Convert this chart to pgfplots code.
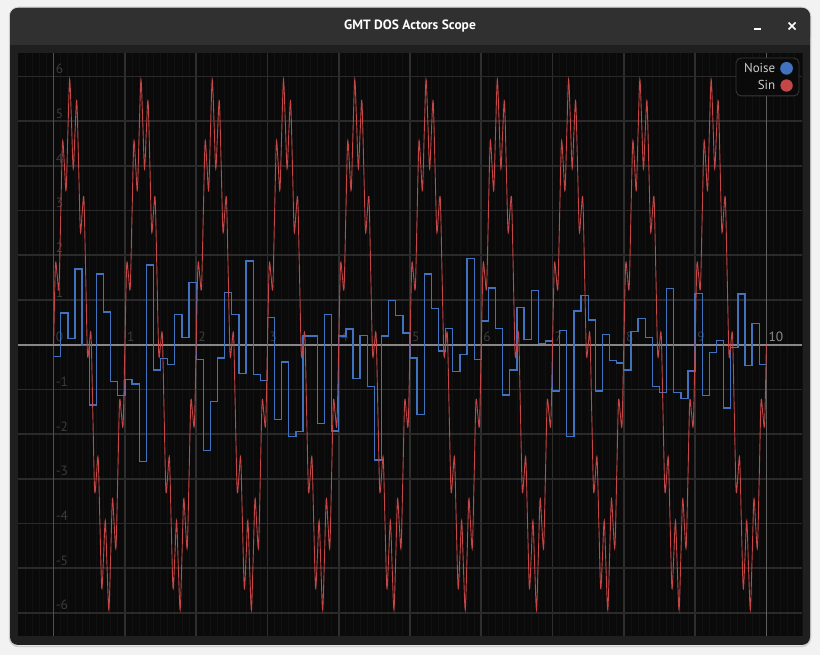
\documentclass[border=0pt]{standalone}
\usepackage{fontspec}
\setmainfont{PT Sans}
\usepackage{pgfplots}
\pgfplotsset{compat=1.18}

\definecolor{pagebg}{RGB}{242,242,242}
\definecolor{winshadow}{RGB}{205,205,205}
\definecolor{framebg}{RGB}{31,31,31}
\definecolor{titlebg}{RGB}{48,48,48}
\definecolor{plotbg}{RGB}{10,10,10}
\definecolor{minorgrid}{RGB}{17,17,17}
\definecolor{vgrid}{RGB}{46,46,46}
\definecolor{hgrid}{RGB}{42,42,42}
\definecolor{zeroh}{RGB}{135,135,135}
\definecolor{zerov}{RGB}{80,80,80}
\definecolor{tenline}{RGB}{95,95,95}
\definecolor{lblgray}{RGB}{60,60,60}
\definecolor{tenlbl}{RGB}{140,140,140}
\definecolor{legborder}{RGB}{58,58,58}
\definecolor{legtext}{RGB}{205,205,205}
\definecolor{sinred}{RGB}{196,70,70}
\definecolor{noiseblue}{RGB}{64,114,190}

\begin{document}
\begin{tikzpicture}[x=1bp,y=1bp,
  tl/.style={anchor=south west, inner sep=0pt, xshift=2bp, yshift=2.5bp,
    text=lblgray, font=\fontsize{13.5}{14}\selectfont}]
% window
\fill[pagebg] (0,0) rectangle (820,655);
\draw[winshadow, line width=1.5bp, rounded corners=9bp] (9.5,8.5) rectangle (810.5,647.5);
\fill[framebg, rounded corners=8bp] (10,10) rectangle (810,647);
\fill[titlebg, rounded corners=8bp] (10,610) rectangle (810,647);
\fill[titlebg] (10,610) rectangle (810,625);
\node[text=white, font=\fontsize{13.5}{16}\selectfont\bfseries] at (410,629) {GMT DOS Actors Scope};
\fill[white] (753.5,624.5) rectangle (760.5,626.5);
\draw[white, line width=1.6bp] (788.5,625.5) -- (795.5,632.5) (788.5,632.5) -- (795.5,625.5);

\begin{axis}[
  at={(18bp,19bp)}, anchor=south west,
  scale only axis, width=784bp, height=582.7bp,
  xmin=-0.5, xmax=10.5, ymin=-6.52, ymax=6.52,
  axis background/.style={fill=plotbg},
  axis line style={draw=none},
  tick style={draw=none}, major tick length=0pt, minor tick length=0pt,
  xtick={1,...,9}, ytick={-6,-5,-4,-3,-2,-1,1,2,3,4,5,6},
  minor xtick={-0.4,-0.3,...,10.45},
  xticklabels={}, yticklabels={},
  xmajorgrids=true, ymajorgrids=true, xminorgrids=true,
  major x grid style={vgrid, line width=1.6bp},
  major y grid style={hgrid, line width=1.6bp},
  minor x grid style={minorgrid, line width=0.8bp},
  legend style={
    at={(axis description cs:1,1)}, anchor=north east,
    xshift=-2.7bp, yshift=-4.3bp,
    fill=plotbg, draw=legborder, line width=0.8bp, rounded corners=5bp,
    text=legtext, font=\fontsize{13}{15}\selectfont,
    inner xsep=6bp, inner ysep=3bp, row sep=2.5bp, column sep=3bp,
  },
  legend plot pos=right, legend cell align=right,
]
% axis lines and tick labels
\draw[zerov, line width=1.6bp] (axis cs:0,-6.52) -- (axis cs:0,6.52);
\draw[tenline, line width=1.6bp] (axis cs:10,-6.52) -- (axis cs:10,6.52);
\draw[zeroh, line width=1.8bp] (axis cs:-0.5,0) -- (axis cs:10.5,0);
\node[tl] at (axis cs:0,0) {0};
\node[tl] at (axis cs:1,0) {1};
\node[tl] at (axis cs:2,0) {2};
\node[tl] at (axis cs:3,0) {3};
\node[tl] at (axis cs:4,0) {4};
\node[tl] at (axis cs:5,0) {5};
\node[tl] at (axis cs:6,0) {6};
\node[tl] at (axis cs:7,0) {7};
\node[tl] at (axis cs:8,0) {8};
\node[tl] at (axis cs:9,0) {9};
\node[tl, text=tenlbl] at (axis cs:10,0) {10};
\node[tl] at (axis cs:0,6) {6};
\node[tl] at (axis cs:0,5) {5};
\node[tl] at (axis cs:0,4) {4};
\node[tl] at (axis cs:0,3) {3};
\node[tl] at (axis cs:0,2) {2};
\node[tl] at (axis cs:0,1) {1};
\node[tl] at (axis cs:0,-1) {-1};
\node[tl] at (axis cs:0,-2) {-2};
\node[tl] at (axis cs:0,-3) {-3};
\node[tl] at (axis cs:0,-4) {-4};
\node[tl] at (axis cs:0,-5) {-5};
\node[tl] at (axis cs:0,-6) {-6};

% Noise: held samples every 0.1
\addplot[const plot, color=noiseblue, line width=1.3bp,
  legend image code/.code={\fill (0bp,0bp) circle (5.7bp);}] coordinates {
(0.0,-0.26) (0.1,0.71) (0.2,0.13) (0.3,1.69) (0.4,-0.02) (0.5,-1.35) (0.6,1.58) (0.7,0.73) (0.8,-0.83) (0.9,-1.14)
(1.0,-0.78) (1.1,-0.88) (1.2,-2.62) (1.3,1.78) (1.4,-0.57) (1.5,-0.31) (1.6,-0.45) (1.7,0.68) (1.8,0.16) (1.9,1.39)
(2.0,-0.34) (2.1,-2.37) (2.2,-1.27) (2.3,-0.30) (2.4,1.17) (2.5,0.68) (2.6,-0.65) (2.7,1.87) (2.8,-0.67) (2.9,-0.80)
(3.0,0.61) (3.1,-1.67) (3.2,-0.39) (3.3,-2.05) (3.4,-1.95) (3.5,0.19) (3.6,0.19) (3.7,-1.77) (3.8,0.68) (3.9,-1.93)
(4.0,0.19) (4.1,0.35) (4.2,-0.76) (4.3,0.21) (4.4,-0.93) (4.5,-2.58) (4.6,0.19) (4.7,0.98) (4.8,0.65) (4.9,0.26)
(5.0,-0.30) (5.1,-1.56) (5.2,1.58) (5.3,0.81) (5.4,-0.14) (5.5,0.36) (5.6,-0.60) (5.7,-0.22) (5.8,1.93) (5.9,-0.34)
(6.0,0.53) (6.1,1.27) (6.2,0.36) (6.3,-1.13) (6.4,-0.57) (6.5,0.83) (6.6,0.11) (6.7,1.21) (6.8,0.03) (6.9,0.08)
(7.0,-1.04) (7.1,0.32) (7.2,-2.05) (7.3,0.75) (7.4,1.10) (7.5,0.55) (7.6,-1.04) (7.7,0.23) (7.8,-0.36) (7.9,-0.41)
(8.0,-0.57) (8.1,0.30) (8.2,0.59) (8.3,0.16) (8.4,-0.94) (8.5,-1.07) (8.6,1.26) (8.7,-1.07) (8.8,-1.21) (8.9,-0.59)
(9.0,1.15) (9.1,-1.14) (9.2,-0.17) (9.3,0.10) (9.4,-1.42) (9.5,-0.07) (9.6,1.13) (9.7,-0.47) (9.8,0.47) (9.9,-0.45)
(10.0,-0.45)
};
\addlegendentry{Noise}

% Sin: read at 0.025 steps
\addplot[color=sinred, line width=0.9bp, smooth, tension=0.5,
  legend image code/.code={\fill (0bp,0bp) circle (5.7bp);}] coordinates {
(0.000,0) (0.025,1.782) (0.050,1.545) (0.075,1.270) (0.100,2.939) (0.125,4.536) (0.150,4.045) (0.175,3.455) (0.200,4.755) (0.225,5.938)
(0.250,5) (0.275,3.938) (0.300,4.755) (0.325,5.455) (0.350,4.045) (0.375,2.536) (0.400,2.939) (0.425,3.270) (0.450,1.545) (0.475,-0.218)
(0.500,0) (0.525,0.218) (0.550,-1.545) (0.575,-3.270) (0.600,-2.939) (0.625,-2.536) (0.650,-4.045) (0.675,-5.455) (0.700,-4.755) (0.725,-3.938)
(0.750,-5) (0.775,-5.938) (0.800,-4.755) (0.825,-3.455) (0.850,-4.045) (0.875,-4.536) (0.900,-2.939) (0.925,-1.270) (0.950,-1.545) (0.975,-1.782)
(1.000,0) (1.025,1.782) (1.050,1.545) (1.075,1.270) (1.100,2.939) (1.125,4.536) (1.150,4.045) (1.175,3.455) (1.200,4.755) (1.225,5.938)
(1.250,5) (1.275,3.938) (1.300,4.755) (1.325,5.455) (1.350,4.045) (1.375,2.536) (1.400,2.939) (1.425,3.270) (1.450,1.545) (1.475,-0.218)
(1.500,0) (1.525,0.218) (1.550,-1.545) (1.575,-3.270) (1.600,-2.939) (1.625,-2.536) (1.650,-4.045) (1.675,-5.455) (1.700,-4.755) (1.725,-3.938)
(1.750,-5) (1.775,-5.938) (1.800,-4.755) (1.825,-3.455) (1.850,-4.045) (1.875,-4.536) (1.900,-2.939) (1.925,-1.270) (1.950,-1.545) (1.975,-1.782)
(2.000,0) (2.025,1.782) (2.050,1.545) (2.075,1.270) (2.100,2.939) (2.125,4.536) (2.150,4.045) (2.175,3.455) (2.200,4.755) (2.225,5.938)
(2.250,5) (2.275,3.938) (2.300,4.755) (2.325,5.455) (2.350,4.045) (2.375,2.536) (2.400,2.939) (2.425,3.270) (2.450,1.545) (2.475,-0.218)
(2.500,0) (2.525,0.218) (2.550,-1.545) (2.575,-3.270) (2.600,-2.939) (2.625,-2.536) (2.650,-4.045) (2.675,-5.455) (2.700,-4.755) (2.725,-3.938)
(2.750,-5) (2.775,-5.938) (2.800,-4.755) (2.825,-3.455) (2.850,-4.045) (2.875,-4.536) (2.900,-2.939) (2.925,-1.270) (2.950,-1.545) (2.975,-1.782)
(3.000,0) (3.025,1.782) (3.050,1.545) (3.075,1.270) (3.100,2.939) (3.125,4.536) (3.150,4.045) (3.175,3.455) (3.200,4.755) (3.225,5.938)
(3.250,5) (3.275,3.938) (3.300,4.755) (3.325,5.455) (3.350,4.045) (3.375,2.536) (3.400,2.939) (3.425,3.270) (3.450,1.545) (3.475,-0.218)
(3.500,0) (3.525,0.218) (3.550,-1.545) (3.575,-3.270) (3.600,-2.939) (3.625,-2.536) (3.650,-4.045) (3.675,-5.455) (3.700,-4.755) (3.725,-3.938)
(3.750,-5) (3.775,-5.938) (3.800,-4.755) (3.825,-3.455) (3.850,-4.045) (3.875,-4.536) (3.900,-2.939) (3.925,-1.270) (3.950,-1.545) (3.975,-1.782)
(4.000,0) (4.025,1.782) (4.050,1.545) (4.075,1.270) (4.100,2.939) (4.125,4.536) (4.150,4.045) (4.175,3.455) (4.200,4.755) (4.225,5.938)
(4.250,5) (4.275,3.938) (4.300,4.755) (4.325,5.455) (4.350,4.045) (4.375,2.536) (4.400,2.939) (4.425,3.270) (4.450,1.545) (4.475,-0.218)
(4.500,0) (4.525,0.218) (4.550,-1.545) (4.575,-3.270) (4.600,-2.939) (4.625,-2.536) (4.650,-4.045) (4.675,-5.455) (4.700,-4.755) (4.725,-3.938)
(4.750,-5) (4.775,-5.938) (4.800,-4.755) (4.825,-3.455) (4.850,-4.045) (4.875,-4.536) (4.900,-2.939) (4.925,-1.270) (4.950,-1.545) (4.975,-1.782)
(5.000,0) (5.025,1.782) (5.050,1.545) (5.075,1.270) (5.100,2.939) (5.125,4.536) (5.150,4.045) (5.175,3.455) (5.200,4.755) (5.225,5.938)
(5.250,5) (5.275,3.938) (5.300,4.755) (5.325,5.455) (5.350,4.045) (5.375,2.536) (5.400,2.939) (5.425,3.270) (5.450,1.545) (5.475,-0.218)
(5.500,0) (5.525,0.218) (5.550,-1.545) (5.575,-3.270) (5.600,-2.939) (5.625,-2.536) (5.650,-4.045) (5.675,-5.455) (5.700,-4.755) (5.725,-3.938)
(5.750,-5) (5.775,-5.938) (5.800,-4.755) (5.825,-3.455) (5.850,-4.045) (5.875,-4.536) (5.900,-2.939) (5.925,-1.270) (5.950,-1.545) (5.975,-1.782)
(6.000,0) (6.025,1.782) (6.050,1.545) (6.075,1.270) (6.100,2.939) (6.125,4.536) (6.150,4.045) (6.175,3.455) (6.200,4.755) (6.225,5.938)
(6.250,5) (6.275,3.938) (6.300,4.755) (6.325,5.455) (6.350,4.045) (6.375,2.536) (6.400,2.939) (6.425,3.270) (6.450,1.545) (6.475,-0.218)
(6.500,0) (6.525,0.218) (6.550,-1.545) (6.575,-3.270) (6.600,-2.939) (6.625,-2.536) (6.650,-4.045) (6.675,-5.455) (6.700,-4.755) (6.725,-3.938)
(6.750,-5) (6.775,-5.938) (6.800,-4.755) (6.825,-3.455) (6.850,-4.045) (6.875,-4.536) (6.900,-2.939) (6.925,-1.270) (6.950,-1.545) (6.975,-1.782)
(7.000,0) (7.025,1.782) (7.050,1.545) (7.075,1.270) (7.100,2.939) (7.125,4.536) (7.150,4.045) (7.175,3.455) (7.200,4.755) (7.225,5.938)
(7.250,5) (7.275,3.938) (7.300,4.755) (7.325,5.455) (7.350,4.045) (7.375,2.536) (7.400,2.939) (7.425,3.270) (7.450,1.545) (7.475,-0.218)
(7.500,0) (7.525,0.218) (7.550,-1.545) (7.575,-3.270) (7.600,-2.939) (7.625,-2.536) (7.650,-4.045) (7.675,-5.455) (7.700,-4.755) (7.725,-3.938)
(7.750,-5) (7.775,-5.938) (7.800,-4.755) (7.825,-3.455) (7.850,-4.045) (7.875,-4.536) (7.900,-2.939) (7.925,-1.270) (7.950,-1.545) (7.975,-1.782)
(8.000,0) (8.025,1.782) (8.050,1.545) (8.075,1.270) (8.100,2.939) (8.125,4.536) (8.150,4.045) (8.175,3.455) (8.200,4.755) (8.225,5.938)
(8.250,5) (8.275,3.938) (8.300,4.755) (8.325,5.455) (8.350,4.045) (8.375,2.536) (8.400,2.939) (8.425,3.270) (8.450,1.545) (8.475,-0.218)
(8.500,0) (8.525,0.218) (8.550,-1.545) (8.575,-3.270) (8.600,-2.939) (8.625,-2.536) (8.650,-4.045) (8.675,-5.455) (8.700,-4.755) (8.725,-3.938)
(8.750,-5) (8.775,-5.938) (8.800,-4.755) (8.825,-3.455) (8.850,-4.045) (8.875,-4.536) (8.900,-2.939) (8.925,-1.270) (8.950,-1.545) (8.975,-1.782)
(9.000,0) (9.025,1.782) (9.050,1.545) (9.075,1.270) (9.100,2.939) (9.125,4.536) (9.150,4.045) (9.175,3.455) (9.200,4.755) (9.225,5.938)
(9.250,5) (9.275,3.938) (9.300,4.755) (9.325,5.455) (9.350,4.045) (9.375,2.536) (9.400,2.939) (9.425,3.270) (9.450,1.545) (9.475,-0.218)
(9.500,0) (9.525,0.218) (9.550,-1.545) (9.575,-3.270) (9.600,-2.939) (9.625,-2.536) (9.650,-4.045) (9.675,-5.455) (9.700,-4.755) (9.725,-3.938)
(9.750,-5) (9.775,-5.938) (9.800,-4.755) (9.825,-3.455) (9.850,-4.045) (9.875,-4.536) (9.900,-2.939) (9.925,-1.270) (9.950,-1.545) (9.975,-1.782)
(10.000,0)
};
\addlegendentry{Sin}
\end{axis}
\pgfresetboundingbox
\path (0,0) rectangle (820,655);
\end{tikzpicture}
\end{document}
